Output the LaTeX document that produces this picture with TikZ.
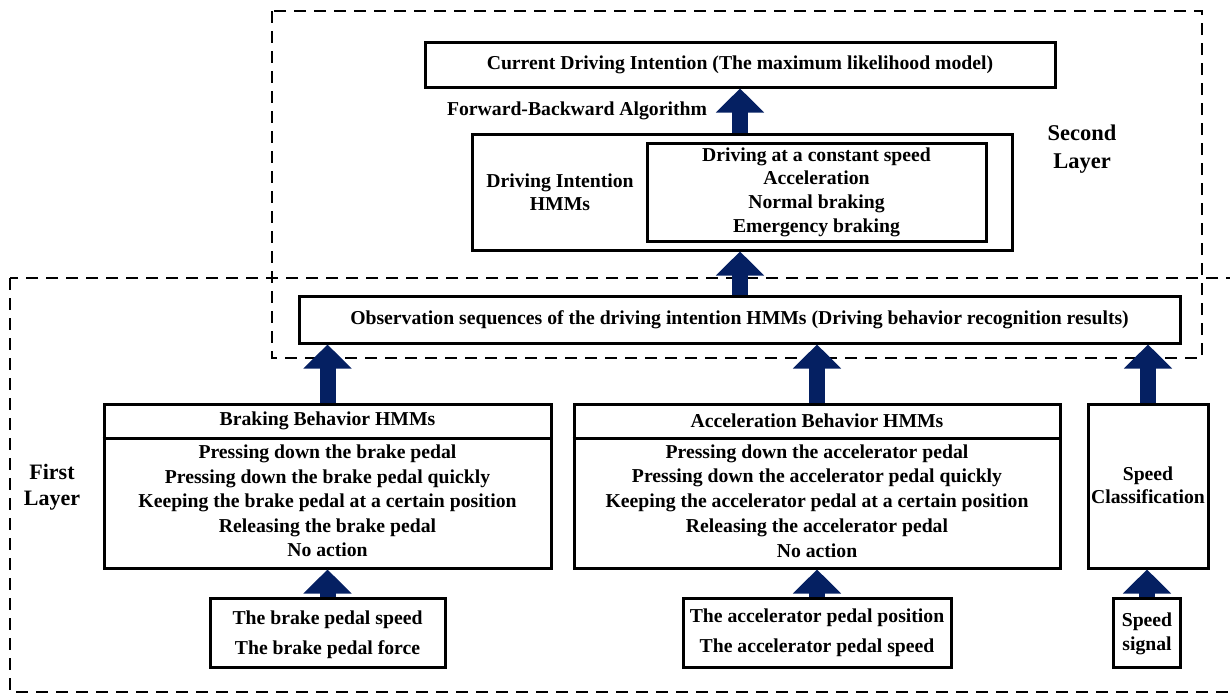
\documentclass[tikz,border=0pt]{standalone}
\usepackage{fontspec}
\setmainfont{Liberation Serif}
\usepackage{xcolor}
\usetikzlibrary{arrows.meta,positioning}

\definecolor{navy}{RGB}{5,32,98}

\begin{document}
\begin{tikzpicture}[x=1pt,y=-1pt,
    box/.style={draw,line width=3pt,inner sep=0pt},
    layer/.style={draw,line width=1.6pt,dash pattern=on 12pt off 8pt},
    fatarrow/.style={navy,line width=16pt,-{Triangle[width=47pt,length=24pt]}},
    txt/.style={font=\bfseries\fontsize{19.7}{24}\selectfont,align=center,inner sep=0pt}]
    \useasboundingbox (0,0) rectangle (1230,694);

    % dashed layers
    \draw[layer] (272,11) rectangle (1202,358);
    \draw[layer] (10,278) rectangle (1240,692);
    \node[txt,font=\bfseries\fontsize{22.5}{28}\selectfont] (second) at (1082,149) {Second\\Layer};
    \node[txt,font=\bfseries\fontsize{22}{26}\selectfont] (first) at (52,487) {First\\Layer};

    % Second layer
    \node[box,minimum width=630,minimum height=45] (current) at (740,64.5) {};
    \node[txt] (currenttxt) at (current) {Current Driving Intention (The maximum likelihood model)};
    \node[txt] (fb) at (577,111) {Forward-Backward Algorithm};

    \node[box,minimum width=540,minimum height=116] (dihmm) at (742,192) {};
    \node[txt,font=\bfseries\fontsize{19.7}{23}\selectfont] (dilabel) at (560,192) {Driving Intention\\HMMs};
    \node[box,minimum width=339,minimum height=98] (intent) at (816.5,192) {};
    \node[txt,font=\bfseries\fontsize{19.7}{23.7}\selectfont] (intenttxt) at (intent)
        {Driving at a constant speed\\Acceleration\\Normal braking\\Emergency braking};

    \node[box,minimum width=881,minimum height=47] (obs) at (739.5,319.5) {};
    \node[txt] (obstxt) at (obs) {Observation sequences of the driving intention HMMs (Driving behavior recognition results)};

    % First layer
    \node[box,minimum width=447,minimum height=164] (brkhmm) at (327.5,486) {};
    \node[txt] (brkhead) at (327.5,421) {Braking Behavior HMMs};
    \draw[line width=3pt] (brkhmm.west |- 0,438) -- (brkhmm.east |- 0,438);
    \node[txt,font=\bfseries\fontsize{19.7}{24.5}\selectfont] (brkbody) at (327.5,501)
        {Pressing down the brake pedal\\Pressing down the brake pedal quickly\\Keeping the brake pedal at a certain position\\Releasing the brake pedal\\No action};

    \node[box,minimum width=486,minimum height=164] (acchmm) at (817,486) {};
    \node[txt] (acchead) at (817,421) {Acceleration Behavior HMMs};
    \draw[line width=3pt] (acchmm.west |- 0,438) -- (acchmm.east |- 0,438);
    \node[txt,font=\bfseries\fontsize{19.7}{24.8}\selectfont] (accbody) at (817,501)
        {Pressing down the accelerator pedal\\Pressing down the accelerator pedal quickly\\Keeping the accelerator pedal at a certain position\\Releasing the accelerator pedal\\No action};

    \node[box,minimum width=120,minimum height=164] (speedcls) at (1148,486) {};
    \node[txt,font=\bfseries\fontsize{19.7}{23}\selectfont] (speedclstxt) at (1148,485) {Speed\\Classification};

    % inputs
    \node[box,minimum width=235,minimum height=69] (brkin) at (327.5,632.5) {};
    \node[txt,font=\bfseries\fontsize{19.7}{30}\selectfont] (brkintxt) at (327.5,635) {The brake pedal speed\\The brake pedal force};
    \node[box,minimum width=268,minimum height=69] (accin) at (817,632.5) {};
    \node[txt,font=\bfseries\fontsize{19.7}{30}\selectfont] (accintxt) at (817,633) {The accelerator pedal position\\The accelerator pedal speed};
    \node[box,minimum width=67,minimum height=69] (speedin) at (1147,632.5) {};
    \node[txt,font=\bfseries\fontsize{19.7}{24}\selectfont] (speedintxt) at (1147,634) {Speed\\signal};

    % arrows
    \draw[fatarrow] (brkin.north) -- (brkin.north |- brkhmm.south);
    \draw[fatarrow] (accin.north) -- (accin.north |- acchmm.south);
    \draw[fatarrow] (speedin.north) -- (speedin.north |- speedcls.south);
    \draw[fatarrow] (brkhmm.north) -- (brkhmm.north |- obs.south);
    \draw[fatarrow] (acchmm.north) -- (acchmm.north |- obs.south);
    \draw[fatarrow] (speedcls.north) -- (speedcls.north |- obs.south);
    \draw[fatarrow] (obs.north -| current.south) -- (dihmm.south -| current.south);
    \draw[fatarrow] (dihmm.north -| current.south) -- (current.south);
\end{tikzpicture}
\end{document}
